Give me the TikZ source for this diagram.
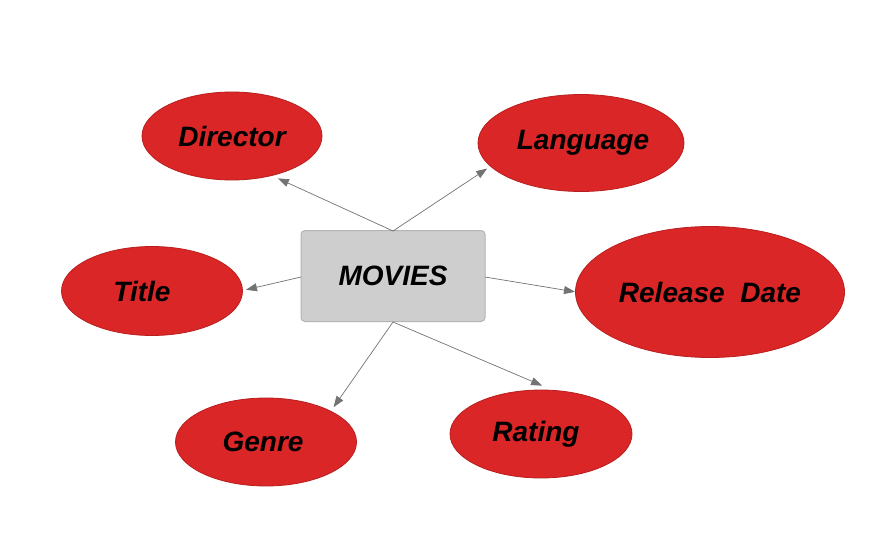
\documentclass[tikz,border=0pt]{standalone}
\usepackage{fontspec}
\setmainfont{Liberation Sans}
\usetikzlibrary{shapes.geometric,arrows.meta}
\definecolor{ovalred}{RGB}{218,38,38}
\definecolor{ovaledge}{RGB}{185,30,30}
\definecolor{boxgray}{RGB}{206,206,206}
\definecolor{boxedge}{RGB}{180,180,180}
\definecolor{linkgray}{RGB}{115,115,115}
\tikzset{
  attr/.style={ellipse, fill=ovalred, draw=ovaledge, line width=0.8pt, inner sep=0pt,
    font=\fontsize{28}{32}\selectfont\bfseries\itshape},
  entity/.style={rectangle, rounded corners=4pt, fill=boxgray, draw=boxedge, line width=1pt,
    font=\fontsize{28}{32}\selectfont\bfseries\itshape},
  link/.style={draw=linkgray, line width=0.7pt, -{Triangle[length=11pt,width=8pt]}, shorten >=1pt}
}
\begin{document}
\begin{tikzpicture}[x=1pt,y=-1pt]
\useasboundingbox (0,0) rectangle (894,559);
\fill[white] (0,0) rectangle (894,559);
\node[entity, minimum width=184pt, minimum height=91pt] (movies) at (393,276) {MOVIES};
\node[attr, minimum width=180pt, minimum height=88pt] (director) at (232,136) {Director};
\node[attr, minimum width=206pt, minimum height=97pt] (language) at (581,143) {\hspace*{4pt}Language};
\node[attr, minimum width=181pt, minimum height=89pt] (title) at (152,291) {Title\hspace*{20pt}};
\node[attr, minimum width=269pt, minimum height=131pt] (release) at (710,292) {Release\ \ Date};
\node[attr, minimum width=181pt, minimum height=88pt] (genre) at (266,442) {Genre\hspace*{6pt}};
\node[attr, minimum width=182pt, minimum height=88pt] (rating) at (541,434) {Rating\hspace*{10pt}};
\coordinate (mtop) at (393,231);
\coordinate (mbot) at (393,322);
\coordinate (mleft) at (301,277);
\coordinate (mright) at (485,277);
\coordinate (tdir) at (277,178);
\coordinate (tlang) at (488,168);
\coordinate (ttitle) at (245,290);
\coordinate (trel) at (576,292);
\coordinate (tgenre) at (333,408);
\coordinate (trat) at (543,386);
\draw[link] (mtop) -- (tdir);
\draw[link] (mtop) -- (tlang);
\draw[link] (mleft) -- (ttitle);
\draw[link] (mright) -- (trel);
\draw[link] (mbot) -- (tgenre);
\draw[link] (mbot) -- (trat);
\end{tikzpicture}
\end{document}
